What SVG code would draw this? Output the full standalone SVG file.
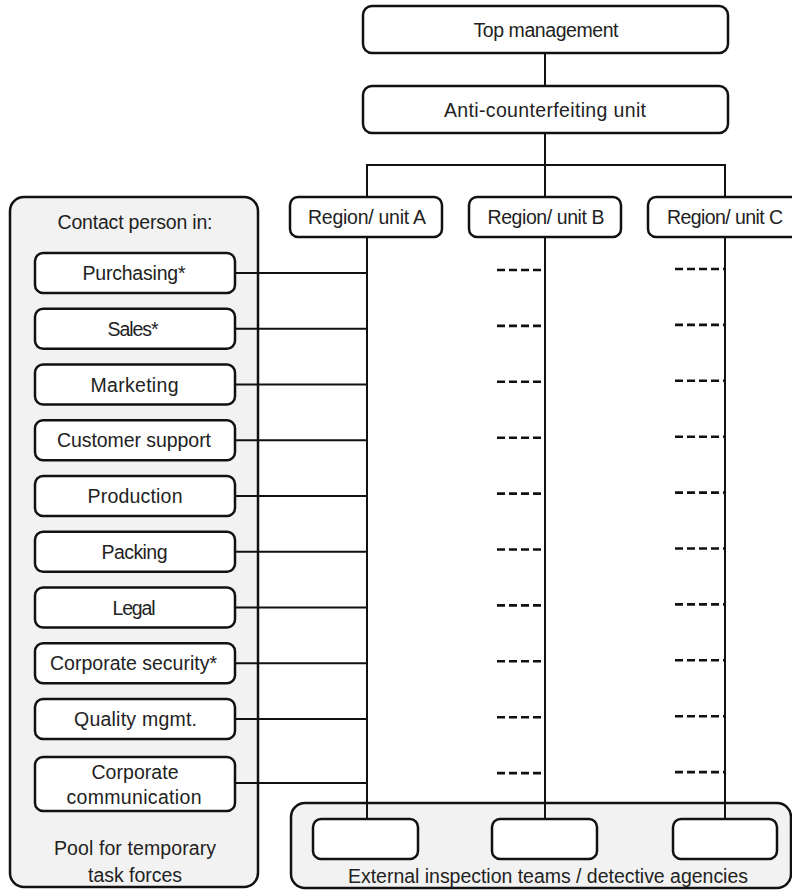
<svg xmlns="http://www.w3.org/2000/svg" width="792" height="896" viewBox="0 0 792 896">
  <style>
    .box { fill: #ffffff; stroke: #111; stroke-width: 2.5; }
    .panel { fill: #f2f2f2; stroke: #111; stroke-width: 2.5; }
    .ln { fill: none; stroke: #111; stroke-width: 2; }
    .dash { fill: none; stroke: #111; stroke-width: 2.6; stroke-dasharray: 8 4; }
    text { font-family: "Liberation Sans", Arial, sans-serif; font-size: 19.5px; fill: #222; text-anchor: middle; dominant-baseline: central; }
  </style>

  <!-- panels -->
  <g id="pool">
    <rect class="panel" x="10" y="197" width="248" height="690" rx="14"/>
    <text x="135" y="222" textLength="155" lengthAdjust="spacing">Contact person in:</text>
    <text x="135" y="848" textLength="162" lengthAdjust="spacing">Pool for temporary</text>
    <text x="135" y="875" textLength="94" lengthAdjust="spacing">task forces</text>
  </g>
  <g id="external">
    <rect class="panel" x="291" y="803" width="500" height="85" rx="14"/>
    <text x="548" y="876" textLength="400" lengthAdjust="spacing">External inspection teams / detective agencies</text>
  </g>

  <!-- connectors -->
  <g id="connectors">
    <line class="ln" x1="545" y1="53" x2="545" y2="86" stroke-width="1.6"/>
    <line class="ln" x1="545" y1="133" x2="545" y2="165" stroke-width="2.5"/>
    <polyline class="ln" points="367,197 367,165 725,165 725,197"/>
    <line class="ln" x1="545" y1="165" x2="545" y2="197"/>
    <line class="ln" x1="367" y1="237" x2="367" y2="819"/>
    <line class="ln" x1="545" y1="237" x2="545" y2="819"/>
    <line class="ln" x1="725" y1="237" x2="725" y2="819"/>
    <!-- contact persons to region A -->
    <line class="ln" x1="235" y1="273" x2="367" y2="273"/>
    <line class="ln" x1="235" y1="328.75" x2="367" y2="328.75"/>
    <line class="ln" x1="235" y1="384.5" x2="367" y2="384.5"/>
    <line class="ln" x1="235" y1="440.25" x2="367" y2="440.25"/>
    <line class="ln" x1="235" y1="496" x2="367" y2="496"/>
    <line class="ln" x1="235" y1="551.75" x2="367" y2="551.75"/>
    <line class="ln" x1="235" y1="607.5" x2="367" y2="607.5"/>
    <line class="ln" x1="235" y1="663.25" x2="367" y2="663.25"/>
    <line class="ln" x1="235" y1="719" x2="367" y2="719"/>
    <line class="ln" x1="235" y1="783" x2="367" y2="783"/>
    <!-- dashed stubs for regions B and C -->
    <g id="stubs-b">
      <line class="dash" x1="497" y1="270" x2="545" y2="270"/>
      <line class="dash" x1="497" y1="325.9" x2="545" y2="325.9"/>
      <line class="dash" x1="497" y1="381.8" x2="545" y2="381.8"/>
      <line class="dash" x1="497" y1="437.7" x2="545" y2="437.7"/>
      <line class="dash" x1="497" y1="493.6" x2="545" y2="493.6"/>
      <line class="dash" x1="497" y1="549.5" x2="545" y2="549.5"/>
      <line class="dash" x1="497" y1="605.4" x2="545" y2="605.4"/>
      <line class="dash" x1="497" y1="661.3" x2="545" y2="661.3"/>
      <line class="dash" x1="497" y1="717.2" x2="545" y2="717.2"/>
      <line class="dash" x1="497" y1="773.1" x2="545" y2="773.1"/>
    </g>
    <g id="stubs-c">
      <line class="dash" x1="675" y1="269" x2="725" y2="269"/>
      <line class="dash" x1="675" y1="324.9" x2="725" y2="324.9"/>
      <line class="dash" x1="675" y1="380.8" x2="725" y2="380.8"/>
      <line class="dash" x1="675" y1="436.7" x2="725" y2="436.7"/>
      <line class="dash" x1="675" y1="492.6" x2="725" y2="492.6"/>
      <line class="dash" x1="675" y1="548.5" x2="725" y2="548.5"/>
      <line class="dash" x1="675" y1="604.4" x2="725" y2="604.4"/>
      <line class="dash" x1="675" y1="660.3" x2="725" y2="660.3"/>
      <line class="dash" x1="675" y1="716.2" x2="725" y2="716.2"/>
      <line class="dash" x1="675" y1="772.1" x2="725" y2="772.1"/>
    </g>
  </g>

  <!-- hierarchy -->
  <g id="top-management">
    <rect class="box" x="363" y="6" width="365" height="47" rx="9"/>
    <text x="546" y="30" textLength="145" lengthAdjust="spacing">Top management</text>
  </g>
  <g id="anti-counterfeiting">
    <rect class="box" x="363" y="86" width="365" height="47" rx="9"/>
    <text x="545" y="110" textLength="202" lengthAdjust="spacing">Anti-counterfeiting unit</text>
  </g>
  <g id="region-a">
    <rect class="box" x="290" y="197" width="152" height="40" rx="8"/>
    <text x="367" y="217" textLength="118" lengthAdjust="spacing">Region/ unit A</text>
  </g>
  <g id="region-b">
    <rect class="box" x="469" y="197" width="152" height="40" rx="8"/>
    <text x="546" y="217" textLength="117" lengthAdjust="spacing">Region/ unit B</text>
  </g>
  <g id="region-c">
    <rect class="box" x="648" y="197" width="160" height="40" rx="8"/>
    <text x="725" y="217" textLength="116" lengthAdjust="spacing">Region/ unit C</text>
  </g>

  <!-- contact persons -->
  <g id="purchasing">
    <rect class="box" x="35" y="253" width="200" height="40" rx="8"/>
    <text x="134" y="273" textLength="103" lengthAdjust="spacing">Purchasing*</text>
  </g>
  <g id="sales">
    <rect class="box" x="35" y="308.75" width="200" height="40" rx="8"/>
    <text x="133" y="328.75" textLength="51" lengthAdjust="spacing">Sales*</text>
  </g>
  <g id="marketing">
    <rect class="box" x="35" y="364.5" width="200" height="40" rx="8"/>
    <text x="134.5" y="384.5" textLength="88" lengthAdjust="spacing">Marketing</text>
  </g>
  <g id="customer-support">
    <rect class="box" x="35" y="420.25" width="200" height="40" rx="8"/>
    <text x="134" y="440.25" textLength="154" lengthAdjust="spacing">Customer support</text>
  </g>
  <g id="production">
    <rect class="box" x="35" y="476" width="200" height="40" rx="8"/>
    <text x="135" y="496" textLength="95" lengthAdjust="spacing">Production</text>
  </g>
  <g id="packing">
    <rect class="box" x="35" y="531.75" width="200" height="40" rx="8"/>
    <text x="134.5" y="551.75" textLength="66" lengthAdjust="spacing">Packing</text>
  </g>
  <g id="legal">
    <rect class="box" x="35" y="587.5" width="200" height="40" rx="8"/>
    <text x="134" y="607.5" textLength="43" lengthAdjust="spacing">Legal</text>
  </g>
  <g id="corporate-security">
    <rect class="box" x="35" y="643.25" width="200" height="40" rx="8"/>
    <text x="133.5" y="663.25" textLength="167" lengthAdjust="spacing">Corporate security*</text>
  </g>
  <g id="quality">
    <rect class="box" x="35" y="699" width="200" height="40" rx="8"/>
    <text x="135.5" y="719" textLength="123" lengthAdjust="spacing">Quality mgmt.</text>
  </g>
  <g id="corporate-communication">
    <rect class="box" x="35" y="757" width="200" height="54" rx="8"/>
    <text x="135" y="772" textLength="87" lengthAdjust="spacing">Corporate</text>
    <text x="134" y="797" textLength="135" lengthAdjust="spacing">communication</text>
  </g>

  <!-- external agencies -->
  <g id="agency-1">
    <rect class="box" x="313" y="819" width="105" height="40" rx="8"/>
  </g>
  <g id="agency-2">
    <rect class="box" x="492" y="819" width="105" height="40" rx="8"/>
  </g>
  <g id="agency-3">
    <rect class="box" x="673" y="819" width="104" height="40" rx="8"/>
  </g>
</svg>
